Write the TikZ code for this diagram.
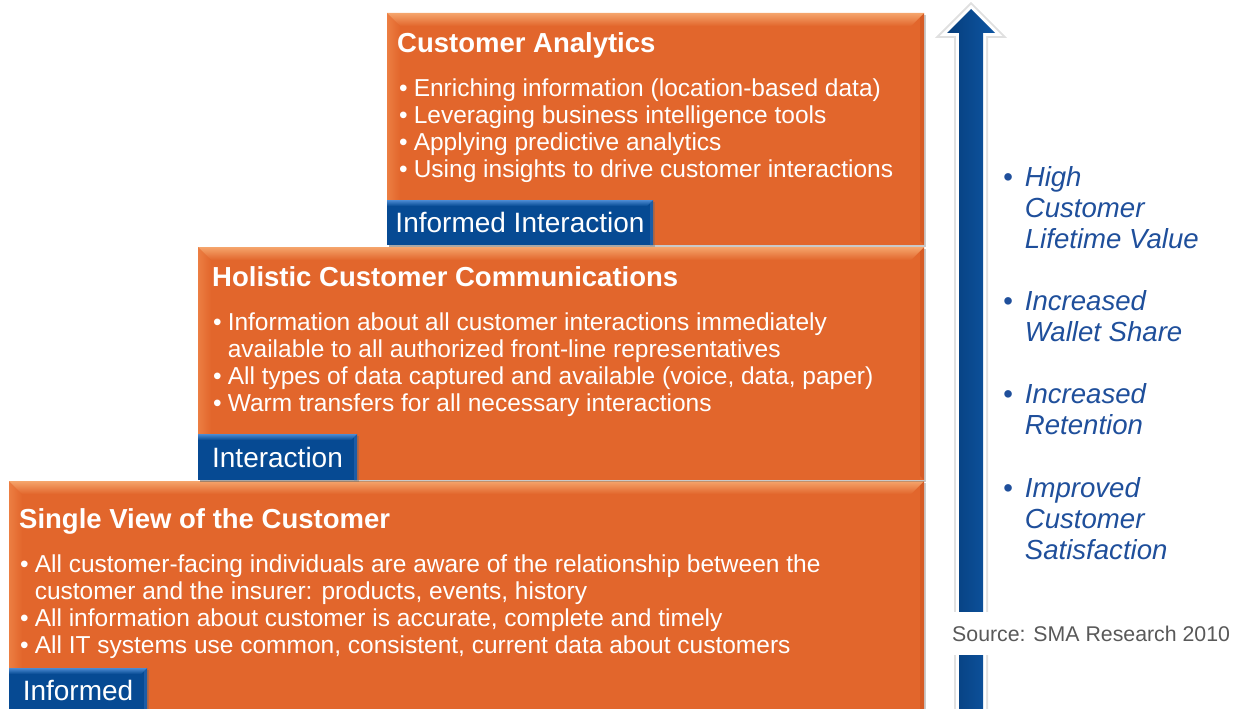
\documentclass[tikz,border=0pt]{standalone}
\usepackage{fontspec}
\setmainfont{Liberation Sans}
\usetikzlibrary{shadows}
\definecolor{boxorange}{HTML}{E2662C}
\definecolor{boxorangeL}{HTML}{F5A56C}
\definecolor{boxorangeM}{HTML}{EC7E42}
\definecolor{boxorangeD}{HTML}{D65B24}
\definecolor{tabblue}{HTML}{064A93}
\definecolor{tabblueL}{HTML}{4C8BD2}
\definecolor{tabblueM}{HTML}{1D5CA5}
\definecolor{arrowblue}{HTML}{0E56A3}
\definecolor{arrowblueD}{HTML}{063E7C}
\definecolor{valueblue}{HTML}{1F4F9B}
\definecolor{srcgray}{HTML}{595959}

\begin{document}
\begin{tikzpicture}[x=1pt,y=-1pt,
  stagebox/.style={anchor=north west, fill=boxorange, inner sep=0pt, outer sep=0pt,
    drop shadow={shadow xshift=1.5pt, shadow yshift=-2pt, opacity=0.35, fill=black!60},
    path picture={
      \coordinate (pnw) at (path picture bounding box.north west);
      \coordinate (pne) at (path picture bounding box.north east);
      \coordinate (psw) at (path picture bounding box.south west);
      \coordinate (pse) at (path picture bounding box.south east);
      \shade[left color=boxorangeM, right color=boxorange]
        (pnw) -- ([xshift=13pt,yshift=-13pt]pnw) -- ([xshift=13pt,yshift=13pt]psw) -- (psw) -- cycle;
      \fill[boxorangeD]
        (pne) -- ([xshift=-4pt,yshift=-4pt]pne) -- ([xshift=-4pt,yshift=4pt]pse) -- (pse) -- cycle;
      \shade[top color=boxorangeL, bottom color=boxorange]
        (pnw) -- (pne) -- ([xshift=-13pt,yshift=-13pt]pne) -- ([xshift=13pt,yshift=-13pt]pnw) -- cycle;
    }},
  stagetab/.style={anchor=north west, fill=tabblue, inner sep=0pt, outer sep=0pt,
    text=white, font=\fontsize{28}{30}\selectfont,
    drop shadow={shadow xshift=1.5pt, shadow yshift=-2pt, opacity=0.35, fill=black!60},
    path picture={
      \coordinate (tnw) at (path picture bounding box.north west);
      \coordinate (tne) at (path picture bounding box.north east);
      \coordinate (tse) at (path picture bounding box.south east);
      \fill[tabblueM]
        (tne) -- ([xshift=-3pt,yshift=-3pt]tne) -- ([xshift=-3pt,yshift=0pt]tse) -- (tse) -- cycle;
      \shade[top color=tabblueL, bottom color=tabblue]
        (tnw) -- (tne) -- ([xshift=-6pt,yshift=-6pt]tne) -- ([xshift=0pt,yshift=-6pt]tnw) -- cycle;
    }},
  stagetitle/.style={anchor=base west, inner sep=0pt, text=white,
    font=\fontsize{27.5}{30}\selectfont\bfseries},
  stagelist/.style={anchor=base west, inner sep=0pt, text=white,
    font=\fontsize{24.5}{27.3}\selectfont},
  valuelist/.style={anchor=base west, inner sep=0pt, text=valueblue,
    font=\fontsize{27.6}{31}\selectfont\itshape},
  sourcenote/.style={anchor=west, fill=white, inner xsep=4pt, inner ysep=0pt,
    minimum height=43pt, text=srcgray, font=\fontsize{21.3}{24}\selectfont}
]
\useasboundingbox (0,0) rectangle (1243,709);
\clip (0,0) rectangle (1243,709);

% Three stacked stages
\node[stagebox, minimum width=915pt, minimum height=234pt] (single) at (9,481) {};
\node[stagebox, minimum width=726pt, minimum height=233pt] (holistic) at (198,247) {};
\node[stagebox, minimum width=537pt, minimum height=232pt] (analytics) at (387,13) {};

% Stage: Customer Analytics
\node[stagetitle] (analyticsTitle) at (397,53) {Customer Analytics};
\node[stagelist] (analyticsList) at (399,96) {%
  \begin{tabular}[t]{@{}l@{\hspace{6pt}}l@{}}
  • & Enriching information (location-based data)\\
  • & Leveraging business intelligence tools\\
  • & Applying predictive analytics\\
  • & Using insights to drive customer interactions
  \end{tabular}};
\node[stagetab, minimum width=266pt, minimum height=45pt] (analyticsTab) at (387,200) {Informed Interaction};

% Stage: Holistic Customer Communications
\node[stagetitle] (holisticTitle) at (212,286) {Holistic Customer Communications};
\node[stagelist] (holisticList) at (213,330) {%
  \begin{tabular}[t]{@{}l@{\hspace{6pt}}l@{}}
  • & Information about all customer interactions immediately\\
    & available to all authorized front-line representatives\\
  • & All types of data captured and available (voice, data, paper)\\
  • & Warm transfers for all necessary interactions
  \end{tabular}};
\node[stagetab, minimum width=159pt, minimum height=46pt] (holisticTab) at (198,434) {Interaction};

% Stage: Single View of the Customer
\node[stagetitle] (singleTitle) at (19,528) {Single View of the Customer};
\node[stagelist] (singleList) at (20,572) {%
  \begin{tabular}[t]{@{}l@{\hspace{6pt}}l@{}}
  • & All customer-facing individuals are aware of the relationship between the\\
    & customer and the insurer: products, events, history\\
  • & All information about customer is accurate, complete and timely\\
  • & All IT systems use common, consistent, current data about customers
  \end{tabular}};
\node[stagetab, minimum width=138pt, minimum height=44pt] (singleTab) at (9,668) {Informed};

% Upward arrow
\coordinate (shaftBL) at (959,716);
\coordinate (shaftTL) at (959,33);
\coordinate (headL) at (947,33);
\coordinate (tip) at (971,9);
\coordinate (headR) at (995,33);
\coordinate (shaftTR) at (983,33);
\coordinate (shaftBR) at (983,716);
\draw[black, opacity=0.12, line width=10pt, line join=miter]
  (shaftBL) -- (shaftTL) -- (headL) -- (tip) -- (headR) -- (shaftTR) -- (shaftBR) -- cycle;
\draw[white, line width=6pt, line join=miter]
  (shaftBL) -- (shaftTL) -- (headL) -- (tip) -- (headR) -- (shaftTR) -- (shaftBR) -- cycle;
\shade[left color=arrowblueD, right color=arrowblue]
  (shaftBL) -- (shaftTL) -- (headL) -- (tip) -- (headR) -- (shaftTR) -- (shaftBR) -- cycle;

% Benefits
\node[valuelist] (valueHigh) at (1003,186) {%
  \begin{tabular}[t]{@{}l@{\hspace{12pt}}l@{}}
  • & High\\ & Customer\\ & Lifetime Value
  \end{tabular}};
\node[valuelist] (valueWallet) at (1003,310) {%
  \begin{tabular}[t]{@{}l@{\hspace{12pt}}l@{}}
  • & Increased\\ & Wallet Share
  \end{tabular}};
\node[valuelist] (valueRetention) at (1003,403) {%
  \begin{tabular}[t]{@{}l@{\hspace{12pt}}l@{}}
  • & Increased\\ & Retention
  \end{tabular}};
\node[valuelist] (valueSatisfaction) at (1003,497) {%
  \begin{tabular}[t]{@{}l@{\hspace{12pt}}l@{}}
  • & Improved\\ & Customer\\ & Satisfaction
  \end{tabular}};

% Source
\node[sourcenote] (source) at (948,633.5) {Source: SMA Research 2010};
\end{tikzpicture}
\end{document}
